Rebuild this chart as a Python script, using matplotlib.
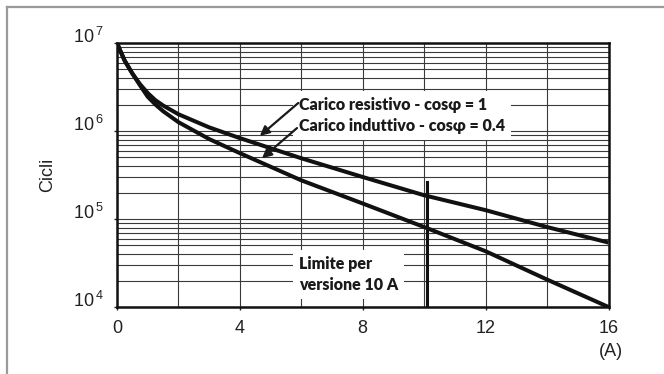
import numpy as np
import matplotlib
matplotlib.use("Agg")
import matplotlib.pyplot as plt
from matplotlib.lines import Line2D
from matplotlib.ticker import FixedLocator, MultipleLocator, FuncFormatter, NullFormatter

# Data
current = [0, 0.125, 0.25, 0.5, 0.75, 1, 1.25, 1.5, 2, 3, 4, 6, 8, 10, 12, 14, 16]
cycles_resistive = [1.0e7, 7.9e6, 6.3e6, 4.5e6, 3.4e6, 2.7e6, 2.24e6, 1.95e6, 1.55e6,
                    1.1e6, 8.3e5, 4.9e5, 3.0e5, 1.86e5, 1.26e5, 8.1e4, 5.4e4]
cycles_inductive = [1.0e7, 7.9e6, 6.3e6, 4.5e6, 3.3e6, 2.45e6, 2.0e6, 1.68e6, 1.26e6,
                    8.1e5, 5.6e5, 2.75e5, 1.5e5, 8.1e4, 4.3e4, 2.05e4, 1.0e4]
limit_current = 10.1
limit_top = 2.6e5
x_ticks = [0, 4, 8, 12, 16]
y_ticks = [1e4, 1e5, 1e6, 1e7]

label_resistive = "Carico resistivo - cos\u03c6 = 1"
label_inductive = "Carico induttivo - cos\u03c6 = 0.4"
label_limit = "Limite per\nversione 10 A"

plt.rcParams['font.family'] = ['Liberation Sans', 'DejaVu Sans']
plt.rcParams['mathtext.fontset'] = 'custom'
plt.rcParams['mathtext.rm'] = 'Liberation Sans'
plt.rcParams['mathtext.default'] = 'regular'

fig = plt.figure(figsize=(6.64, 3.74), dpi=100)
ax = fig.add_axes([117 / 664, 1 - 307 / 374, 491.5 / 664, 264 / 374])

ax.set_yscale('log')
ax.set_xlim(0, 16)
ax.set_ylim(1e4, 1e7)

# grid
ax.xaxis.set_major_locator(FixedLocator(x_ticks))
ax.xaxis.set_minor_locator(MultipleLocator(2))
ax.yaxis.set_major_locator(FixedLocator(y_ticks))
ax.yaxis.set_minor_formatter(NullFormatter())
ax.grid(True, which='both', color='#3a3a3a', lw=0.8, zorder=0)
ax.set_axisbelow(True)

ax.yaxis.set_major_formatter(FuncFormatter(
    lambda v, p: "10$^{\\,%d}$" % round(np.log10(v))))
ax.tick_params(which='major', direction='out', length=2.5, width=1,
               labelsize=13, colors='#222222')
ax.tick_params(axis='x', which='major', pad=7)
ax.tick_params(axis='y', which='major', pad=7)
ax.tick_params(which='minor', length=0)
for lab in ax.get_yticklabels():
    lab.set_va('baseline')

for s in ax.spines.values():
    s.set_linewidth(1.8)
    s.set_color('#111111')

# curves
ax.plot(current, cycles_resistive, color='#111111', lw=2.9,
        solid_capstyle='butt', solid_joinstyle='round', zorder=3)
ax.plot(current, cycles_inductive, color='#111111', lw=2.9,
        solid_capstyle='butt', solid_joinstyle='round', zorder=3)
ax.plot([limit_current, limit_current], [1e4, limit_top],
        color='#111111', lw=2.2, zorder=3)

# annotations (va='baseline' anchors the last line here)
note_font = dict(fontsize=11.5, fontweight='heavy', family=['Lato', 'DejaVu Sans'],
                 color='#1a1a1a', ha='left', va='baseline', linespacing=1.42)
ax.text(5.92, 10 ** 6.0, label_resistive + "\n" + label_inductive, zorder=4,
        bbox=dict(fc='white', ec='none', pad=4), **note_font)
ax.annotate("", xy=(4.65, 8.8e5), xytext=(5.9, 2.08e6),
            arrowprops=dict(arrowstyle='-|>', color='#1a1a1a', lw=1.6,
                            mutation_scale=14, shrinkA=0, shrinkB=0), zorder=5)
ax.annotate("", xy=(4.72, 4.9e5), xytext=(5.86, 1.08e6),
            arrowprops=dict(arrowstyle='-|>', color='#1a1a1a', lw=1.6,
                            mutation_scale=14, shrinkA=0, shrinkB=0), zorder=5)

ax.text(5.92, 10 ** 4.193, label_limit, zorder=4,
        bbox=dict(fc='white', ec='none', pad=4), **note_font)

ax.set_ylabel("Cicli", fontsize=13, color='#222222', labelpad=12)
fig.text(611 / 664, 1 - 352 / 374, "(A)", fontsize=13, color='#222222',
         ha='center', va='center')

# gray frame (top and left edges)
fig.add_artist(Line2D([7 / 664, 1], [1 - 7 / 374, 1 - 7 / 374],
                      transform=fig.transFigure, color='#9a9a9a', lw=1.6))
fig.add_artist(Line2D([7 / 664, 7 / 664], [0, 1 - 7 / 374],
                      transform=fig.transFigure, color='#9a9a9a', lw=1.6))

fig.savefig("out.png", dpi=100)
